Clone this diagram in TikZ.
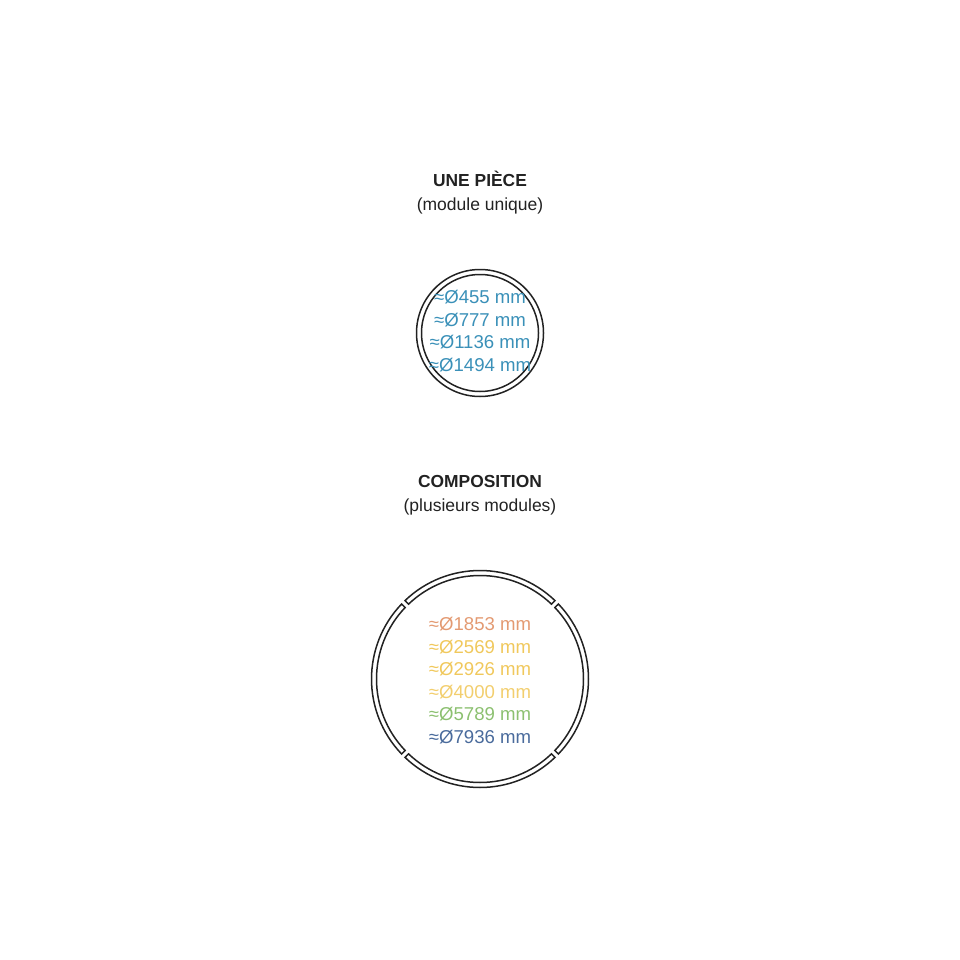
\documentclass[tikz,border=0pt]{standalone}
\usepackage{fontspec}
\setmainfont{Liberation Sans}
\usetikzlibrary{calc}
\definecolor{ink}{HTML}{222222}
\definecolor{cblue}{HTML}{3A90B8}
\definecolor{corange}{HTML}{E39A72}
\definecolor{cyellow}{HTML}{F0C85C}
\definecolor{cyellowb}{HTML}{F2CE6E}
\definecolor{cgreen}{HTML}{8CC070}
\definecolor{cnavy}{HTML}{4A6B9C}
\tikzset{
  ring/.style={draw=ink, line width=1.5pt},
  title/.style={font=\fontsize{17.4}{20}\selectfont\bfseries, text=ink, anchor=base, inner sep=0pt},
  sub/.style={font=\fontsize{17.5}{20}\selectfont, text=ink, anchor=base, inner sep=0pt},
  dim/.style={font=\fontsize{18.6}{21}\selectfont, anchor=base, inner sep=0pt},
}
\begin{document}
\begin{tikzpicture}[x=1pt,y=-1pt]
\useasboundingbox (0,0) rectangle (960,960);
% titles
\node[title] (t1) at (480,186) {UNE PIÈCE};
\node[sub] (s1) at (480,210) {(module unique)};
\node[title] (t2) at (480,487) {COMPOSITION};
\node[sub] (s2) at (480,511) {(plusieurs modules)};
% small ring
\coordinate (c1) at (480,333);
\draw[ring] (c1) circle[radius=63.5];
\draw[ring] (c1) circle[radius=58.5];
\node[dim, text=cblue] (d1) at (480,303.5) {≈Ø455 mm};
\node[dim, text=cblue] (d2) at (480,326) {≈Ø777 mm};
\node[dim, text=cblue] (d3) at (480,348.5) {≈Ø1136 mm};
\node[dim, text=cblue] (d4) at (480,371) {≈Ø1494 mm};
% large segmented ring
\coordinate (c2) at (480,679);
\foreach \a in {45,135,225,315}{
  \draw[ring, line join=miter] ($(c2)+(\a+1.3:108.5)$) arc[start angle=\a+1.3, end angle=\a+88.7, radius=108.5]
    -- ($(c2)+(\a+88.7:103.5)$) arc[start angle=\a+88.7, end angle=\a+1.3, radius=103.5] -- cycle;
}
\node[dim, text=corange] (e1) at (480,630.5) {≈Ø1853 mm};
\node[dim, text=cyellow] (e2) at (480,653) {≈Ø2569 mm};
\node[dim, text=cyellow] (e3) at (480,675.5) {≈Ø2926 mm};
\node[dim, text=cyellowb] (e4) at (480,698) {≈Ø4000 mm};
\node[dim, text=cgreen] (e5) at (480,720.5) {≈Ø5789 mm};
\node[dim, text=cnavy] (e6) at (480,743) {≈Ø7936 mm};
\end{tikzpicture}
\end{document}
